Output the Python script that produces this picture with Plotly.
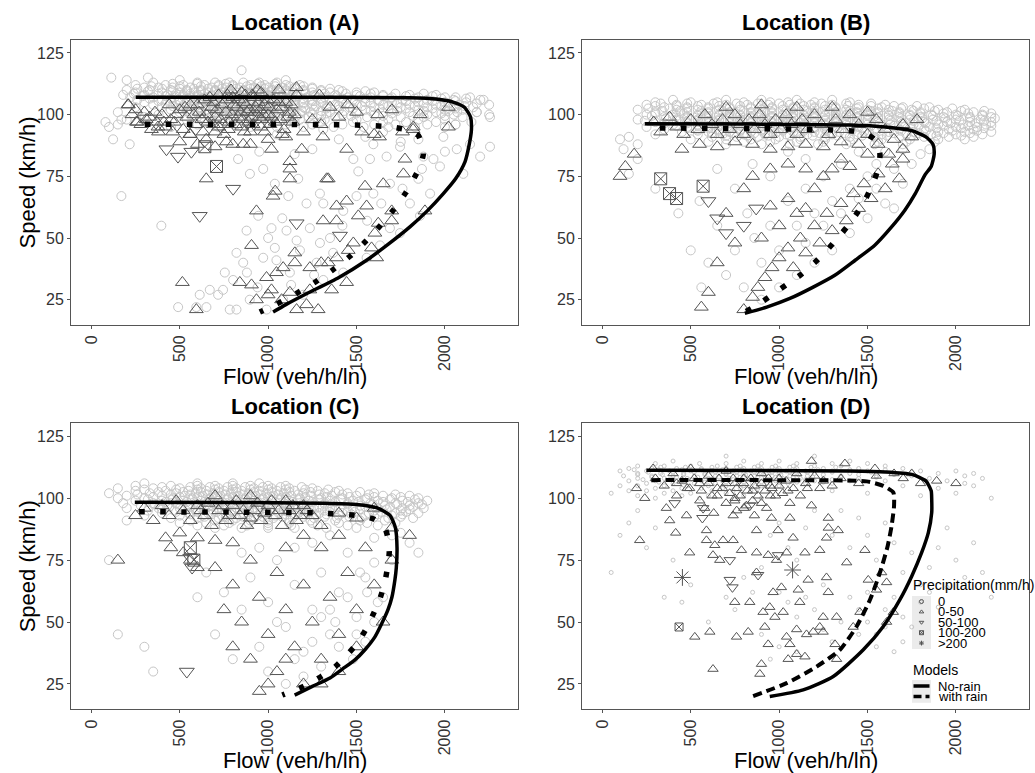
import plotly.graph_objects as go

# ------------------------------------------------------------------ data
panel_titles = ["Location (A)", "Location (B)", "Location (C)", "Location (D)"]
x_ticks = [0, 500, 1000, 1500, 2000]
y_ticks = [25, 50, 75, 100, 125]
x_limits = [0, 2300]
y_limits = [20, 125]
precip_labels = ["0", "0-50", "50-100", "100-200", ">200"]
model_labels = ["No-rain", "with rain"]

# ---- Location A
A_circle_rows = [
    (118, [850]), (115, [320]), (114, [200, 500, 1100]),
    (113, [350, 600, 700, 780, 860, 950, 1050]),
    (112.5, [460, 600, 760, 940, 1040]),
    (112, [250, 420, 520, 640, 720, 800, 900, 980, 1100, 1180]),
    (111.5, [340, 500, 620, 720, 800, 880, 960, 1040, 1120, 1200]),
    (111, [300, 380, 460, 560, 680, 760, 840, 920, 1000, 1080, 1150, 1250]),
    (110.5, [260, 400, 500, 580, 660, 740, 820, 900, 980, 1060, 1150, 1250, 1350]),
    (110, [200, 330, 450, 540, 620, 700, 780, 860, 940, 1020, 1100, 1200, 1300, 1400]),
    (109.5, [320, 460, 540, 620, 700, 780, 860, 940, 1020, 1100, 1200, 1300, 1420, 1550]),
    (109, [250, 400, 500, 580, 660, 740, 820, 900, 980, 1060, 1140, 1250, 1350, 1500, 1600]),
    (108.5, [240, 380, 480, 560, 640, 720, 800, 880, 960, 1040, 1120, 1210, 1320, 1440, 1580, 1720, 1880]),
    (108, [180, 300, 430, 520, 600, 680, 760, 840, 920, 1000, 1080, 1160, 1260, 1380, 1500, 1650, 1800, 1950]),
    (107.5, [290, 420, 520, 600, 680, 760, 840, 920, 1000, 1080, 1170, 1270, 1390, 1520, 1650, 1780, 1930]),
    (107, [220, 350, 470, 560, 640, 720, 800, 880, 960, 1040, 1120, 1220, 1320, 1450, 1580, 1700, 1850, 2000, 2060]),
    (106.5, [330, 450, 550, 630, 710, 790, 870, 950, 1030, 1110, 1200, 1300, 1420, 1550, 1690, 1830, 1980, 2120]),
    (106, [260, 400, 500, 590, 670, 750, 830, 910, 990, 1070, 1150, 1250, 1350, 1480, 1620, 1760, 1900, 2050, 2200]),
    (105.5, [380, 500, 580, 660, 740, 820, 900, 980, 1060, 1150, 1250, 1360, 1490, 1630, 1780, 1930, 2060]),
    (105, [300, 450, 540, 620, 700, 780, 860, 940, 1020, 1100, 1200, 1300, 1420, 1550, 1700, 1850, 2000, 2120]),
    (104.5, [420, 530, 620, 700, 780, 860, 940, 1020, 1100, 1200, 1310, 1440, 1580, 1730, 1880, 2020, 2180]),
    (104, [350, 480, 580, 660, 740, 820, 900, 980, 1060, 1150, 1250, 1380, 1500, 1650, 1800, 1950, 2080, 2250]),
    (103.5, [460, 570, 650, 730, 810, 890, 970, 1050, 1150, 1270, 1400, 1530, 1680, 1830, 1980, 2110]),
    (103, [250, 400, 520, 610, 690, 770, 850, 930, 1010, 1100, 1200, 1330, 1460, 1600, 1750, 1900, 2050, 2160]),
    (102.5, [500, 610, 690, 770, 850, 930, 1010, 1100, 1210, 1330, 1480, 1630, 1780, 1930, 2060]),
    (102, [450, 560, 650, 730, 810, 890, 970, 1050, 1150, 1260, 1400, 1550, 1700, 1850, 2000, 2100]),
    (101.5, [540, 650, 740, 820, 900, 990, 1080, 1190, 1300, 1430, 1580, 1730, 1880, 2020]),
    (101, [150, 500, 600, 700, 780, 860, 940, 1030, 1130, 1240, 1350, 1500, 1650, 1800, 1950, 2070, 2180]),
    (100.5, [620, 710, 790, 870, 960, 1060, 1180, 1330, 1500, 1700, 1980]),
    (100, [380, 560, 660, 750, 830, 920, 1010, 1120, 1250, 1420, 1600, 1900, 2050, 2250]),
    (99.5, [680, 760, 850, 940, 1040, 1160, 1300, 1470, 1650, 1820, 2000]),
    (99, [300, 620, 720, 800, 890, 980, 1100, 1230, 1380, 1560, 1750, 1880, 2100]),
    (98, [200, 540, 680, 790, 900, 1020, 1180, 1320, 1500, 1680, 1850, 2000]),
    (97, [80, 640, 760, 880, 1000, 1150, 1300, 1480, 1650, 1780, 1950, 2150]),
    (96, [150, 600, 820, 950, 1100, 1250, 1420, 1600, 1720, 1900, 2060]),
    (95, [100, 450, 720, 900, 1050, 1200, 1370, 1540, 1680, 1830, 2000]),
]
A_circle_pts = [
    (113, 115), (170, 98), (123, 90), (170, 67), (217, 88), (396, 55), (897, 76), (830, 82),
    (972, 78), (1038, 72), (1114, 67), (1170, 74), (1293, 68), (1312, 64), (1217, 64), (1236, 54),
    (1293, 48), (1161, 49), (1104, 53), (1019, 54), (944, 59), (878, 53), (821, 44), (859, 40),
    (972, 42), (1047, 41), (1123, 36), (1038, 46), (1274, 40), (1368, 44), (1312, 33), (1425, 36),
    (1198, 27), (1085, 25), (896, 25), (783, 21), (717, 27), (670, 29), (755, 36), (802, 33),
    (991, 21), (821, 21), (491, 22), (613, 27), (651, 22), (594, 22), (745, 29), (1482, 82),
    (1510, 77), (1576, 82), (1595, 88), (1670, 83), (1746, 87), (1878, 83), (1935, 82), (1972, 79),
    (1850, 74), (1916, 68), (1802, 64), (1859, 59), (1746, 52), (1633, 47), (1557, 42), (1689, 54),
    (1425, 61), (1500, 67), (1595, 68), (1689, 72), (2104, 76), (2067, 86), (2142, 88), (2255, 87),
    (2199, 83), (1991, 91), (2255, 99), (2218, 106), (2142, 107), (2180, 101), (1312, 94), (1400, 90),
    (1250, 86), (1150, 84), (1050, 92), (950, 85), (1550, 91), (1650, 93), (1750, 89), (1850, 90),
    (1130, 31), (1260, 35), (1180, 45), (1350, 50), (1420, 55), (1560, 57), (1640, 64), (1760, 70),
    (1870, 78), (2000, 85), (2060, 96), (940, 30), (880, 36), (1000, 50), (1080, 58),
]
A_tri_pts = [
    (640, 106), (680, 103), (700, 99), (720, 95), (740, 104), (760, 101), (780, 97), (800, 107),
    (820, 103), (830, 99), (850, 95), (860, 105), (880, 101), (890, 97), (900, 93), (920, 107),
    (930, 103), (950, 99), (960, 95), (980, 104), (1000, 100), (1010, 96), (1030, 106), (1050, 102),
    (1070, 98), (1090, 94), (1100, 105), (1120, 101), (1140, 97), (1160, 108), (660, 97), (700, 93),
    (750, 92), (870, 108), (940, 110), (1060, 110), (790, 110), (720, 108), (980, 93), (1080, 92),
    (610, 101), (590, 96), (560, 104), (540, 99), (520, 94), (500, 102), (470, 97), (440, 104),
    (420, 95), (400, 100), (370, 97), (340, 94), (310, 98), (280, 96), (250, 102), (210, 104),
    (260, 97), (380, 93), (460, 93), (560, 92), (650, 90), (500, 89), (600, 88), (700, 87),
    (800, 88), (900, 88), (1000, 90), (1100, 91), (1200, 93), (1250, 98), (1300, 96), (1350, 103),
    (1400, 99), (1450, 104), (1500, 101), (1530, 93), (1600, 92), (1620, 100), (1700, 102), (1760, 93),
    (1820, 94), (2020, 103), (2020, 95), (1860, 100), (1310, 91), (1630, 91), (1290, 108), (1160, 111),
    (960, 109), (1190, 86), (1123, 81), (1019, 86), (859, 88), (764, 89), (632, 93), (557, 92),
    (377, 95), (255, 97), (207, 104),
    (650, 100), (670, 107), (690, 105), (710, 102), (730, 98), (745, 96), (765, 106), (775, 94),
    (795, 100), (805, 104), (815, 96), (835, 106), (845, 101), (855, 98), (865, 93), (875, 104),
    (895, 102), (905, 99), (915, 96), (925, 101), (945, 105), (955, 102), (965, 98), (975, 100),
    (995, 106), (1005, 103), (1020, 99), (1040, 97), (1060, 105), (1080, 103), (1110, 99), (1130, 104),
    (1150, 100), (770, 108), (850, 109), (910, 108), (690, 96), (625, 98), (600, 104), (580, 100),
    (530, 103), (480, 100), (450, 98), (410, 97), (360, 101), (330, 99), (300, 101), (230, 100),
    (1028, 67), (934, 61), (1123, 78), (1331, 74), (1387, 63), (1444, 65), (1548, 71), (1651, 72),
    (1774, 82), (1765, 76), (1821, 95), (1123, 74), (1340, 74), (1444, 86), (906, 47), (1151, 44),
    (1311, 57), (1387, 57), (1510, 59), (1557, 63), (1623, 56), (1699, 57), (1699, 61), (1887, 61),
    (1604, 52), (1482, 48), (1453, 45), (1585, 46), (1614, 42), (1387, 42), (1340, 40), (1236, 38),
    (1300, 40), (1151, 40), (1085, 38), (1047, 36), (991, 34), (1019, 29), (906, 31), (840, 32),
    (934, 25), (1000, 27), (1076, 25), (1161, 21), (1283, 21), (1217, 23), (1444, 32), (1359, 29),
    (1236, 29), (1123, 28), (594, 21), (515, 32), (650, 74), (1040, 69),
]
A_tridown_pts = [(425, 86), (490, 83), (566, 85), (802, 70), (613, 59), (1161, 56), (1406, 51)]
A_box_pts = [(642, 87), (708, 79)]
A_star_pts = []
A_norain = [(251, 107), (800, 107), (1400, 107), (1800, 106.8), (1950, 106.3), (2050, 105), (2110, 103),
            (2145, 99), (2150, 94), (2135, 87), (2114, 81), (2060, 74), (1991, 68), (1900, 61),
            (1802, 54.5), (1680, 47.5), (1557, 41), (1400, 34), (1217, 27.4), (1100, 23), (1028, 20)]
A_rain = [(302, 96.1), (900, 96.1), (1500, 95.8), (1700, 95), (1800, 93.5), (1850, 91.5), (1875, 86),
          (1878, 84), (1860, 79), (1837, 75.8), (1778, 68.3), (1708, 61.3), (1633, 54.9), (1548, 48.4),
          (1463, 42.6), (1368, 37.2), (1270, 32.3), (1166, 27.8), (1063, 23.8), (953, 20)]

# ---- Location B
B_circle_rows = [
    (106, [400, 700, 900, 1100, 1300]),
    (105, [300, 500, 650, 800, 950, 1050, 1200, 1400]),
    (104.5, [330, 480, 630, 760, 880, 1000, 1120, 1240, 1380, 1520]),
    (104, [250, 420, 560, 700, 820, 940, 1060, 1180, 1300, 1450, 1600]),
    (103.5, [300, 420, 540, 660, 780, 900, 1020, 1140, 1260, 1390, 1520, 1650, 1780]),
    (103, [350, 480, 600, 720, 840, 960, 1080, 1200, 1320, 1450, 1580, 1700, 1850]),
    (102.5, [260, 380, 480, 600, 720, 840, 960, 1080, 1200, 1320, 1440, 1560, 1690, 1820, 1980]),
    (102, [200, 420, 540, 660, 780, 900, 1020, 1140, 1260, 1380, 1500, 1620, 1750, 1900, 2050]),
    (101.5, [340, 440, 560, 680, 800, 920, 1040, 1160, 1280, 1400, 1520, 1640, 1760, 1880, 2030, 2160]),
    (101, [300, 480, 600, 720, 840, 960, 1080, 1200, 1320, 1440, 1560, 1680, 1800, 1950, 2100]),
    (100.5, [300, 460, 600, 720, 840, 960, 1080, 1200, 1320, 1440, 1560, 1680, 1800, 1930, 2070, 2200]),
    (100, [250, 400, 540, 660, 780, 900, 1020, 1140, 1260, 1380, 1500, 1620, 1740, 1860, 2000, 2150]),
    (99.5, [280, 420, 540, 660, 780, 900, 1020, 1140, 1260, 1380, 1500, 1620, 1740, 1870, 2010, 2150]),
    (99, [350, 480, 600, 720, 840, 960, 1080, 1200, 1320, 1440, 1560, 1680, 1800, 1930, 2080, 2200]),
    (98.5, [360, 480, 600, 720, 840, 960, 1080, 1200, 1320, 1440, 1560, 1690, 1810, 1940, 2080, 2220]),
    (98, [200, 420, 540, 660, 780, 900, 1020, 1140, 1260, 1380, 1500, 1620, 1740, 1870, 2000, 2140]),
    (97.5, [240, 420, 540, 660, 780, 900, 1020, 1140, 1260, 1380, 1500, 1630, 1760, 1890, 2020, 2160]),
    (97, [300, 480, 600, 720, 840, 960, 1080, 1200, 1320, 1440, 1560, 1690, 1820, 1950, 2080, 2200]),
    (96.5, [350, 480, 600, 720, 840, 960, 1080, 1200, 1320, 1440, 1570, 1700, 1830, 1970, 2110]),
    (96, [400, 540, 660, 780, 900, 1020, 1140, 1260, 1380, 1500, 1630, 1760, 1900, 2040, 2170]),
    (95.5, [420, 540, 660, 780, 900, 1020, 1140, 1260, 1390, 1520, 1650, 1790, 1930, 2070, 2200]),
    (95, [250, 480, 600, 720, 840, 960, 1080, 1200, 1320, 1450, 1580, 1710, 1850, 2000, 2120]),
    (94.5, [480, 600, 720, 840, 960, 1080, 1200, 1330, 1470, 1610, 1750, 1890, 2030, 2160]),
    (94, [350, 540, 660, 780, 900, 1020, 1140, 1260, 1400, 1540, 1680, 1820, 1960, 2100]),
    (93.5, [540, 660, 780, 900, 1020, 1140, 1270, 1410, 1550, 1690, 1830, 1980, 2120]),
    (93, [450, 600, 720, 840, 960, 1080, 1200, 1340, 1480, 1620, 1760, 1900, 2050, 2200]),
    (92.5, [620, 740, 860, 980, 1100, 1230, 1370, 1510, 1650, 1790, 1930, 2080]),
    (92, [300, 540, 680, 800, 920, 1040, 1160, 1300, 1440, 1580, 1720, 1860, 2000, 2150]),
    (91.5, [700, 820, 940, 1060, 1190, 1330, 1470, 1610, 1750, 1890, 2030]),
    (91, [150, 620, 760, 880, 1000, 1120, 1260, 1400, 1540, 1680, 1820, 1960, 2100]),
    (90, [100, 500, 700, 840, 980, 1120, 1260, 1420, 1580, 1740, 1900, 2050]),
    (89, [600, 800, 950, 1100, 1250, 1400, 1560, 1720, 1880]),
    (88, [200, 700, 900, 1060, 1220, 1380, 1540, 1700]),
]
B_circle_pts = [
    (120, 86), (200, 82), (150, 76), (300, 70), (430, 60), (500, 45), (560, 30), (600, 40),
    (650, 55), (700, 35), (750, 45), (800, 30), (820, 60), (860, 50), (900, 40), (950, 55),
    (1000, 45), (1050, 65), (1100, 55), (1150, 70), (1200, 60), (1250, 75), (1300, 65), (1350, 80),
    (1400, 70), (1450, 85), (1500, 75), (1550, 80), (1600, 85), (1650, 78), (1700, 86), (1100, 35),
    (1200, 40), (1300, 45), (1400, 52), (1500, 58), (1600, 64), (1700, 72), (1750, 80), (1000, 30),
    (900, 25), (1150, 48), (1250, 55), (1350, 60), (1450, 66), (1550, 70), (1650, 62), (950, 75),
    (850, 80), (750, 70), (650, 78), (550, 65), (1800, 84), (1850, 86), (1050, 85), (1150, 82),
]
B_tri_pts = [
    (290, 97), (330, 93), (380, 99), (420, 95), (460, 92), (500, 98), (540, 94), (580, 100),
    (620, 96), (650, 92), (680, 98), (720, 94), (750, 100), (780, 96), (800, 92), (830, 98),
    (860, 94), (890, 100), (920, 96), (950, 92), (980, 98), (1010, 94), (1040, 100), (1070, 96),
    (1100, 92), (1130, 98), (1160, 94), (1200, 100), (1240, 96), (1280, 92), (1320, 98), (1360, 94),
    (1400, 100), (1450, 96), (1500, 92), (1550, 98), (1600, 94), (1650, 90), (1700, 86), (1620, 84),
    (1560, 88), (1450, 88), (1350, 89), (1250, 87), (1150, 88), (1050, 87), (950, 86), (850, 88),
    (750, 89), (650, 87), (550, 88), (450, 86), (1300, 103), (1500, 101), (700, 103), (900, 104),
    (1100, 103), (1700, 96), (1750, 91), (1780, 98),
    (800, 21), (850, 26), (880, 30), (920, 34), (960, 38), (1000, 42), (1050, 46), (1080, 38),
    (1120, 50), (1150, 44), (1200, 55), (1230, 48), (1270, 60), (1300, 53), (1350, 64), (1380, 57),
    (1420, 68), (1450, 62), (1480, 72), (1520, 66), (1560, 76), (1600, 70), (1640, 80), (1680, 74),
    (1700, 82), (1100, 60), (1000, 55), (900, 50), (950, 63), (1050, 66), (1150, 62), (1200, 70),
    (1250, 75), (1300, 78), (1350, 82), (1400, 79), (1500, 84), (700, 60), (750, 48), (650, 40),
    (600, 28), (560, 22), (800, 70), (850, 75), (950, 78), (1050, 80), (1150, 78), (100, 75),
    (130, 79), (180, 84),
]
B_tridown_pts = [(600, 65), (650, 58), (700, 52), (800, 55), (870, 62)]
B_box_pts = [(330, 74), (380, 68), (420, 66), (570, 71)]
B_star_pts = []
B_norain = [(240, 96.3), (800, 96.2), (1400, 95.8), (1600, 95), (1750, 93.5), (1830, 91), (1870, 88),
            (1877, 84), (1860, 79), (1825, 75.6), (1770, 68), (1711, 61.3), (1630, 54), (1541, 47.1),
            (1430, 41), (1315, 34.9), (1190, 30), (1061, 25.5), (930, 22), (806, 19.5)]
B_rain = [(325, 94.6), (900, 94.3), (1300, 93.8), (1458, 93), (1540, 90), (1570, 84), (1560, 78),
          (1530, 72), (1490, 66), (1440, 60), (1390, 55), (1330, 50), (1270, 45), (1200, 40),
          (1120, 35), (1040, 31), (960, 27), (880, 23), (806, 20)]

# ---- Location C
C_circle_rows = [
    (106, [300, 600, 800, 950]),
    (105, [250, 450, 600, 700, 800, 900, 1000, 1100]),
    (104.5, [400, 560, 670, 770, 870, 970, 1070, 1190]),
    (104, [150, 350, 500, 620, 720, 820, 920, 1020, 1120, 1250]),
    (103.5, [300, 480, 600, 700, 800, 900, 1000, 1100, 1210, 1340]),
    (103, [250, 420, 550, 650, 750, 850, 950, 1050, 1150, 1280, 1400]),
    (102.5, [380, 520, 620, 720, 820, 920, 1020, 1120, 1240, 1380, 1520]),
    (102, [100, 330, 480, 590, 690, 790, 890, 990, 1090, 1200, 1320, 1450, 1600]),
    (101.5, [260, 450, 560, 660, 760, 860, 960, 1060, 1170, 1290, 1420, 1570, 1720]),
    (101, [200, 400, 530, 630, 730, 830, 930, 1030, 1130, 1240, 1360, 1500, 1650, 1800]),
    (100.5, [350, 500, 600, 700, 800, 900, 1000, 1100, 1210, 1330, 1460, 1600, 1750]),
    (100, [150, 300, 460, 570, 670, 770, 870, 970, 1070, 1180, 1300, 1420, 1560, 1700, 1850]),
    (99.5, [320, 460, 570, 670, 770, 870, 970, 1070, 1180, 1290, 1410, 1550, 1690, 1830]),
    (99, [250, 400, 520, 620, 720, 820, 920, 1020, 1120, 1230, 1350, 1480, 1620, 1760, 1900]),
    (98.5, [420, 540, 640, 740, 840, 940, 1040, 1140, 1250, 1380, 1510, 1650, 1790]),
    (98, [180, 350, 480, 590, 690, 790, 890, 990, 1090, 1200, 1320, 1450, 1580, 1720, 1850]),
    (97.5, [360, 490, 600, 700, 800, 900, 1000, 1100, 1200, 1320, 1450, 1590, 1730, 1870]),
    (97, [280, 430, 550, 650, 750, 850, 950, 1050, 1150, 1260, 1380, 1520, 1660, 1800]),
    (96.5, [440, 560, 660, 760, 860, 960, 1060, 1170, 1290, 1410, 1550, 1690, 1820]),
    (96, [200, 380, 500, 620, 720, 820, 920, 1020, 1120, 1230, 1350, 1480, 1620, 1760, 1880]),
    (95.5, [400, 530, 640, 740, 840, 940, 1040, 1150, 1260, 1380, 1520, 1670, 1800]),
    (95, [320, 470, 590, 690, 790, 890, 990, 1090, 1200, 1320, 1450, 1600, 1750]),
    (94.5, [480, 600, 710, 810, 910, 1010, 1110, 1230, 1350, 1490, 1640, 1780]),
    (94, [400, 550, 660, 760, 860, 960, 1060, 1170, 1290, 1420, 1570, 1720, 1850]),
    (93.5, [560, 680, 790, 890, 990, 1100, 1210, 1330, 1470, 1620, 1760]),
    (93, [300, 500, 630, 740, 840, 940, 1040, 1150, 1270, 1400, 1550, 1700]),
    (92.5, [640, 760, 860, 970, 1080, 1200, 1320, 1460, 1600, 1750]),
    (92, [450, 600, 720, 820, 920, 1030, 1140, 1260, 1390, 1530, 1680, 1820]),
    (91, [200, 560, 700, 800, 900, 1000, 1120, 1240, 1380, 1520, 1660]),
    (90, [500, 650, 780, 890, 1000, 1120, 1250, 1400, 1560, 1720]),
    (89, [600, 750, 880, 1000, 1130, 1280, 1450, 1620]),
    (88, [700, 850, 1000, 1150, 1330, 1500]),
]
C_circle_pts = [
    (100, 75), (150, 45), (300, 40), (350, 30), (600, 60), (650, 70), (700, 45), (750, 62),
    (800, 35), (850, 55), (900, 68), (950, 40), (1000, 58), (1050, 75), (1100, 48), (1150, 65),
    (1200, 38), (1250, 55), (1300, 70), (1350, 45), (1400, 62), (1450, 78), (1500, 52), (1550, 68),
    (1600, 84), (1650, 60), (1700, 75), (1000, 30), (1100, 25), (1200, 28), (1300, 32), (1400, 40),
    (1500, 45), (1150, 35), (1250, 42), (1350, 55), (1450, 60), (1050, 50), (950, 80), (850, 78),
    (1150, 80), (1250, 82), (1350, 85), (1750, 86), (1800, 82), (1850, 78), (1700, 85), (1600, 74),
    (1480, 35), (1550, 42), (1600, 50), (1620, 58), (1560, 62), (1520, 70), (1380, 50), (1300, 52),
]
C_tri_pts = [
    (250, 93), (300, 96), (350, 91), (400, 97), (440, 93), (480, 99), (520, 95), (560, 91),
    (600, 97), (640, 93), (680, 89), (720, 95), (760, 91), (800, 97), (840, 93), (880, 89),
    (920, 95), (960, 91), (1000, 97), (1040, 93), (1080, 89), (1120, 95), (1160, 91), (1200, 97),
    (1250, 93), (1300, 89), (1400, 94), (1500, 92), (1600, 96), (1700, 88), (1800, 85), (700, 101),
    (900, 101), (1100, 99), (500, 86), (600, 84), (700, 83), (800, 82), (150, 75), (420, 84),
    (450, 80), (520, 78), (560, 75), (600, 72),
    (620, 95), (660, 98), (740, 97), (780, 93), (820, 99), (860, 95), (900, 92), (940, 98),
    (980, 94), (1020, 99), (1060, 95), (1140, 97), (1180, 93), (1220, 95),
    (700, 72), (750, 55), (800, 65), (850, 50), (900, 75), (950, 60), (1000, 45), (1050, 70),
    (1100, 55), (1150, 40), (1200, 65), (1250, 50), (1300, 35), (1350, 60), (1400, 45), (1450, 70),
    (1500, 55), (1550, 80), (1600, 65), (1650, 50), (1700, 75), (1000, 25), (1050, 30), (950, 22),
    (1100, 35), (1200, 25), (1300, 25), (1400, 30), (1500, 40), (900, 35), (800, 40), (1100, 80),
    (1200, 85), (1300, 80), (1400, 85),
]
C_tridown_pts = [(540, 30), (560, 76), (570, 72)]
C_box_pts = [(560, 80), (580, 75)]
C_star_pts = []
C_norain = [(246, 98.4), (800, 98.3), (1300, 98), (1500, 97.5), (1620, 96), (1690, 93), (1720, 88),
            (1729, 80), (1725, 72), (1717, 67), (1700, 60), (1678, 55), (1640, 49), (1604, 44),
            (1550, 39), (1491, 34.7), (1420, 31), (1350, 27.4), (1250, 24), (1150, 20.5)]
C_rain = [(270, 94.5), (800, 94.4), (1300, 94), (1500, 93), (1600, 91.5), (1660, 88), (1680, 83),
          (1685, 78), (1675, 72), (1660, 66), (1635, 60), (1600, 54), (1560, 48), (1510, 42),
          (1450, 37), (1380, 32), (1300, 28), (1200, 24), (1080, 20.5)]

# ---- Location D
D_circle_rows = [
    (117, [700, 1200]),
    (115, [400, 800, 1000, 1400]),
    (114, [300, 550, 700, 900, 1100, 1300, 1500]),
    (113, [200, 350, 500, 650, 780, 880, 980, 1080, 1200, 1350, 1600]),
    (112.5, [330, 470, 620, 760, 860, 960, 1060, 1180, 1320]),
    (112, [150, 280, 420, 560, 700, 800, 900, 1000, 1100, 1250, 1450, 1700]),
    (111.5, [180, 320, 450, 560, 680, 790, 890, 990, 1090, 1220, 1400, 1600]),
    (111, [100, 250, 380, 500, 620, 740, 840, 940, 1040, 1150, 1300, 1500, 1800, 2000]),
    (110.5, [260, 400, 520, 640, 760, 860, 960, 1060, 1160, 1300, 1520, 1750]),
    (110, [200, 330, 460, 580, 700, 800, 900, 1000, 1100, 1200, 1400, 1650, 1900, 2100]),
    (109.5, [200, 340, 460, 580, 700, 810, 910, 1010, 1110, 1250, 1450, 1650]),
    (109, [120, 280, 400, 520, 640, 760, 860, 960, 1060, 1160, 1350, 1550, 1750, 2050]),
    (108.5, [280, 420, 540, 660, 780, 880, 980, 1080, 1190, 1350, 1550]),
    (108, [200, 350, 480, 600, 720, 820, 920, 1020, 1120, 1250, 1450, 1850, 2150]),
    (107.5, [230, 380, 500, 620, 740, 840, 940, 1040, 1150, 1300]),
    (107, [150, 300, 450, 560, 680, 780, 880, 980, 1080, 1200, 1400, 1600, 1950]),
    (106.5, [320, 460, 580, 700, 800, 900, 1000, 1100, 1250]),
    (106, [250, 400, 520, 640, 750, 850, 950, 1050, 1150, 1300, 2050]),
    (105, [100, 200, 350, 480, 600, 700, 800, 900, 1000, 1700, 2100]),
    (104, [300, 450, 560, 680, 780, 880, 1900]),
    (103, [150, 250, 400, 620, 740, 840, 1300]),
    (102, [50, 350, 500, 700, 1500, 2000]),
    (101, [200, 450, 600, 800, 1800]),
    (100, [300, 550, 900, 2200]),
]
D_circle_pts = [
    (200, 95), (150, 90), (300, 88), (100, 85), (250, 80), (50, 70), (400, 75), (500, 65),
    (450, 58), (600, 50), (700, 60), (750, 55), (800, 68), (850, 62), (900, 72), (950, 85),
    (1000, 90), (1050, 80), (1100, 75), (1150, 88), (1200, 95), (1250, 65), (1300, 85), (1350, 95),
    (1400, 80), (1450, 92), (1500, 85), (1550, 75), (1600, 90), (1650, 82), (1700, 70), (1750, 78),
    (1800, 65), (1850, 72), (1900, 80), (1950, 88), (2000, 75), (2050, 68), (2100, 82), (2150, 70),
    (2200, 60), (1400, 60), (1450, 55), (1500, 50), (1550, 45), (1600, 55), (1650, 60), (1700, 52),
    (1750, 48), (1800, 58), (1850, 62), (1900, 56), (1950, 64), (1500, 62), (1600, 48), (1700, 42),
    (1650, 38), (1550, 40), (1450, 45), (1350, 50), (1300, 42), (1250, 47), (1200, 55), (1150, 60),
    (1100, 52), (1050, 58), (1000, 62), (950, 35), (1000, 40), (1100, 38), (900, 45), (350, 60),
]
D_tri_pts = [
    (211, 83), (193, 104), (240, 100), (287, 112), (362, 96), (381, 91), (415, 86), (476, 93),
    (494, 78), (523, 44), (608, 46), (626, 31), (589, 87), (589, 83), (636, 81), (683, 83),
    (740, 83), (626, 77), (664, 75), (759, 44), (825, 46), (749, 58), (787, 79), (872, 78),
    (938, 77), (985, 75), (1042, 78), (1146, 78), (1230, 79), (1268, 84), (1334, 87), (1278, 88),
    (1278, 92), (994, 87), (1079, 84), (872, 87), (966, 62), (1013, 64), (1108, 63), (1117, 58),
    (1164, 67), (1268, 68), (1278, 62), (1382, 74), (1485, 79), (1504, 67), (1551, 63), (1580, 70),
    (1608, 66), (1646, 54), (1608, 50), (1457, 54), (1419, 48), (1325, 52), (1249, 52), (1230, 48),
    (1193, 46), (1155, 45), (1099, 47), (1042, 44), (1023, 54), (976, 52), (947, 56), (909, 54),
    (919, 48), (938, 41), (1061, 41), (1099, 37), (1051, 35), (1146, 36), (1249, 46), (1316, 41),
    (1325, 35), (900, 33), (891, 29), (834, 58), (872, 70),
    (494, 104), (551, 99), (579, 96), (630, 94), (740, 93), (749, 99), (815, 97), (929, 96),
    (957, 92), (1061, 92), (1061, 98), (1183, 97), (1230, 104), (1183, 115), (1372, 114), (1542, 112),
    (1750, 110), (1702, 108), (1891, 107),
    (300, 108), (350, 105), (400, 110), (450, 107), (500, 112), (550, 106), (600, 109), (650, 104),
    (700, 111), (750, 106), (800, 108), (850, 103), (900, 110), (950, 105), (1000, 108), (1050, 103),
    (1100, 110), (1150, 106), (1200, 109), (650, 101), (750, 100), (850, 99), (950, 101), (420, 101),
    (420, 106), (480, 104), (520, 108), (560, 103), (600, 106), (620, 101), (660, 108), (680, 104),
    (700, 106), (720, 102), (740, 108), (760, 104), (780, 101), (800, 106), (820, 103), (840, 108),
    (860, 105), (880, 101), (900, 106), (920, 103), (940, 108), (960, 104), (980, 101), (1000, 105),
    (1020, 102), (1040, 107), (1080, 104), (1120, 101), (1160, 104), (1250, 107), (1300, 105),
    (1350, 108), (1450, 106), (1550, 109), (1650, 110), (1800, 106), (2000, 106), (700, 98),
    (800, 96), (900, 98), (760, 95), (860, 93),
]
D_tridown_pts = [(409, 98), (570, 96), (566, 92), (721, 75), (721, 67), (736, 64), (881, 69),
                 (994, 77), (834, 97)]
D_box_pts = [(434, 48)]
D_star_pts = [(453, 68), (1076, 71)]
D_norain = [(249, 111.3), (900, 111.2), (1400, 111), (1600, 110.6), (1750, 109.6), (1830, 107),
            (1860, 103), (1863, 99.6), (1863, 94.2), (1844, 86.1), (1806, 78), (1750, 68.5),
            (1683, 59), (1589, 48.2), (1476, 38.8), (1306, 28), (1136, 22.6), (947, 19.9)]
D_rain = [(277, 107.3), (900, 107.3), (1495, 106.8), (1589, 105), (1646, 102.3), (1650, 96.9),
          (1636, 88.8), (1614, 80.7), (1570, 69.9), (1514, 59), (1438, 48.2), (1344, 38.8),
          (1212, 32), (1042, 25.3), (853, 20.1)]

# ------------------------------------------------------------------ figure
W, H = 1035, 773
FONT = "Liberation Sans, Arial, sans-serif"
boxes = {  # plot-area pixel boxes (left, right, top, bottom)
    "A": (71, 518.3, 40, 325), "B": (582, 1029.3, 40, 325),
    "C": (71, 518.3, 423.3, 709.3), "D": (582, 1029.3, 423.3, 709.3),
}
panel_data = {
    "A": (A_circle_rows, A_circle_pts, A_tri_pts, A_tridown_pts, A_box_pts, A_star_pts, A_norain, A_rain),
    "B": (B_circle_rows, B_circle_pts, B_tri_pts, B_tridown_pts, B_box_pts, B_star_pts, B_norain, B_rain),
    "C": (C_circle_rows, C_circle_pts, C_tri_pts, C_tridown_pts, C_box_pts, C_star_pts, C_norain, C_rain),
    "D": (D_circle_rows, D_circle_pts, D_tri_pts, D_tridown_pts, D_box_pts, D_star_pts, D_norain, D_rain),
}

def px_x(p):
    return p / W

def px_y(p):
    return 1 - p / H

def note(text, x, y, size=22, xanchor="center", angle=0, bold=False):
    return dict(text=(f"<b>{text}</b>" if bold else text), x=px_x(x), y=px_y(y), xref="paper",
                yref="paper", showarrow=False, xanchor=xanchor, yanchor="middle", textangle=angle,
                font=dict(family=FONT, size=size, color="black"))

fig = go.Figure()
span_x = x_limits[1] - x_limits[0]
span_y = y_limits[1] - y_limits[0]
xr = [x_limits[0] - 0.05 * span_x, x_limits[1] + 0.05 * span_x]
yr = [y_limits[0] - 0.05 * span_y, y_limits[1] + 0.05 * span_y]

annotations = []
for i, key in enumerate(["A", "B", "C", "D"]):
    n = i + 1
    xa, ya = ("x" if n == 1 else f"x{n}"), ("y" if n == 1 else f"y{n}")
    l, r, t, b = boxes[key]
    axis_common = dict(showline=True, mirror=True, linecolor="#555555", linewidth=1,
                       ticks="outside", ticklen=3, tickcolor="#555555", showgrid=False,
                       zeroline=False, automargin=False,
                       tickfont=dict(family=FONT, size=16, color="#333333"))
    fig.update_layout(**{
        ("xaxis" if n == 1 else f"xaxis{n}"): dict(domain=[px_x(l), px_x(r)], range=xr,
                                                   anchor=ya, tickvals=x_ticks, tickangle=-90,
                                                   **axis_common),
        ("yaxis" if n == 1 else f"yaxis{n}"): dict(domain=[px_y(b), px_y(t)], range=yr,
                                                   anchor=xa, tickvals=y_ticks, **axis_common),
    })
    rows, cpts, tri, tdown, box, star, norain, rain = panel_data[key]
    cf = [f for s, fl in rows for f in fl] + [p[0] for p in cpts]
    cs = [s for s, fl in rows for f in fl] + [p[1] for p in cpts]
    small = key == "D"
    csize, tsize = (4, 9) if small else (9, 12)
    ccol = "#c6c6c6"
    tcol = "#555555"
    fig.add_trace(go.Scatter(x=cf, y=cs, mode="markers", xaxis=xa, yaxis=ya, showlegend=False,
                             marker=dict(symbol="circle-open", size=csize, color=ccol,
                                         line=dict(width=1, color=ccol))))
    for pts, sym, sz in [(tri, "triangle-up-open", tsize), (tdown, "triangle-down-open", tsize + 1),
                         (box, "square-x-open", tsize if not small else 8),
                         (star, "asterisk-open", 14)]:
        if pts:
            fig.add_trace(go.Scatter(x=[p[0] for p in pts], y=[p[1] for p in pts], mode="markers",
                                     xaxis=xa, yaxis=ya, showlegend=False,
                                     marker=dict(symbol=sym, size=sz, color=tcol,
                                                 line=dict(width=1, color=tcol))))
    fig.add_trace(go.Scatter(x=[p[0] for p in norain], y=[p[1] for p in norain], mode="lines",
                             xaxis=xa, yaxis=ya, showlegend=False,
                             line=dict(color="black", width=3.5, shape="spline", smoothing=0.6)))
    rain_dash = "9px,5px" if small else "5.5px,15.5px"
    rain_w = 4 if small else 5.5
    fig.add_trace(go.Scatter(x=[p[0] for p in rain], y=[p[1] for p in rain], mode="lines",
                             xaxis=xa, yaxis=ya, showlegend=False,
                             line=dict(color="black", width=rain_w, dash=rain_dash,
                                       shape="spline", smoothing=0.6)))
    cx = (l + r) / 2
    annotations.append(note(panel_titles[i], cx, t - 17, size=22, bold=True))
    annotations.append(note("Flow (veh/h/ln)", cx, b + 51, size=22))
    if key in ("A", "C"):
        annotations.append(note("Speed (km/h)", 27, (t + b) / 2, size=22, angle=-90))

# ------------------------------------------------------------------ legend (inside D)
leg_left, key_w = 912, 19
item_h = 10.4
prec_top = 596
models_top = 680
annotations.append(note("Precipitation(mm/h)", leg_left - 1, 585, size=14, xanchor="left"))
annotations.append(note("Models", leg_left - 1, 670, size=14, xanchor="left"))
for j, lab in enumerate(precip_labels):
    annotations.append(note(lab, leg_left + key_w + 5, prec_top + 5.5 + j * item_h, size=13,
                            xanchor="left"))
for j, lab in enumerate(model_labels):
    annotations.append(note(lab, leg_left + key_w + 5, models_top + 6 + j * item_h, size=13,
                            xanchor="left"))

shapes = [
    dict(type="rect", xref="paper", yref="paper", x0=px_x(leg_left), x1=px_x(leg_left + key_w),
         y0=px_y(prec_top), y1=px_y(prec_top + 5 * item_h + 1), fillcolor="#ebebeb",
         line=dict(width=0), layer="below"),
    dict(type="rect", xref="paper", yref="paper", x0=px_x(leg_left), x1=px_x(leg_left + key_w),
         y0=px_y(models_top), y1=px_y(models_top + 2 * item_h + 2), fillcolor="#ebebeb",
         line=dict(width=0), layer="below"),
]
fig.update_layout(
    xaxis5=dict(domain=[px_x(leg_left), px_x(leg_left + key_w)], range=[0, key_w], visible=False,
                anchor="y5", fixedrange=True, automargin=False),
    yaxis5=dict(domain=[px_y(models_top + 2 * item_h + 2), px_y(prec_top)],
                range=[models_top + 2 * item_h + 2 - prec_top, 0], visible=False, anchor="x5",
                fixedrange=True, automargin=False),
)
leg_syms = ["circle-open", "triangle-up-open", "triangle-down-open", "square-x-open", "asterisk-open"]
for j, sym in enumerate(leg_syms):
    fig.add_trace(go.Scatter(x=[key_w / 2], y=[5.5 + j * item_h], mode="markers", xaxis="x5",
                             yaxis="y5", showlegend=False, hoverinfo="skip",
                             marker=dict(symbol=sym, size=4, color="#555555",
                                         line=dict(width=1, color="#555555"))))
for j, dash in enumerate(["solid", "8px,4px"]):
    yy = models_top - prec_top + 6 + j * item_h
    fig.add_trace(go.Scatter(x=[1.5, key_w - 1.5], y=[yy, yy], mode="lines", xaxis="x5",
                             yaxis="y5", showlegend=False, hoverinfo="skip",
                             line=dict(color="black", width=3.5, dash=dash)))

fig.update_layout(width=W, height=H, margin=dict(l=0, r=0, t=0, b=0, autoexpand=False),
                  paper_bgcolor="white", plot_bgcolor="rgba(0,0,0,0)",
                  annotations=annotations, shapes=shapes, showlegend=False,
                  font=dict(family=FONT))
fig.write_html("out.html", config={"displayModeBar": False},
               post_script="document.body.style.margin='0px';document.body.style.overflow='hidden';")
